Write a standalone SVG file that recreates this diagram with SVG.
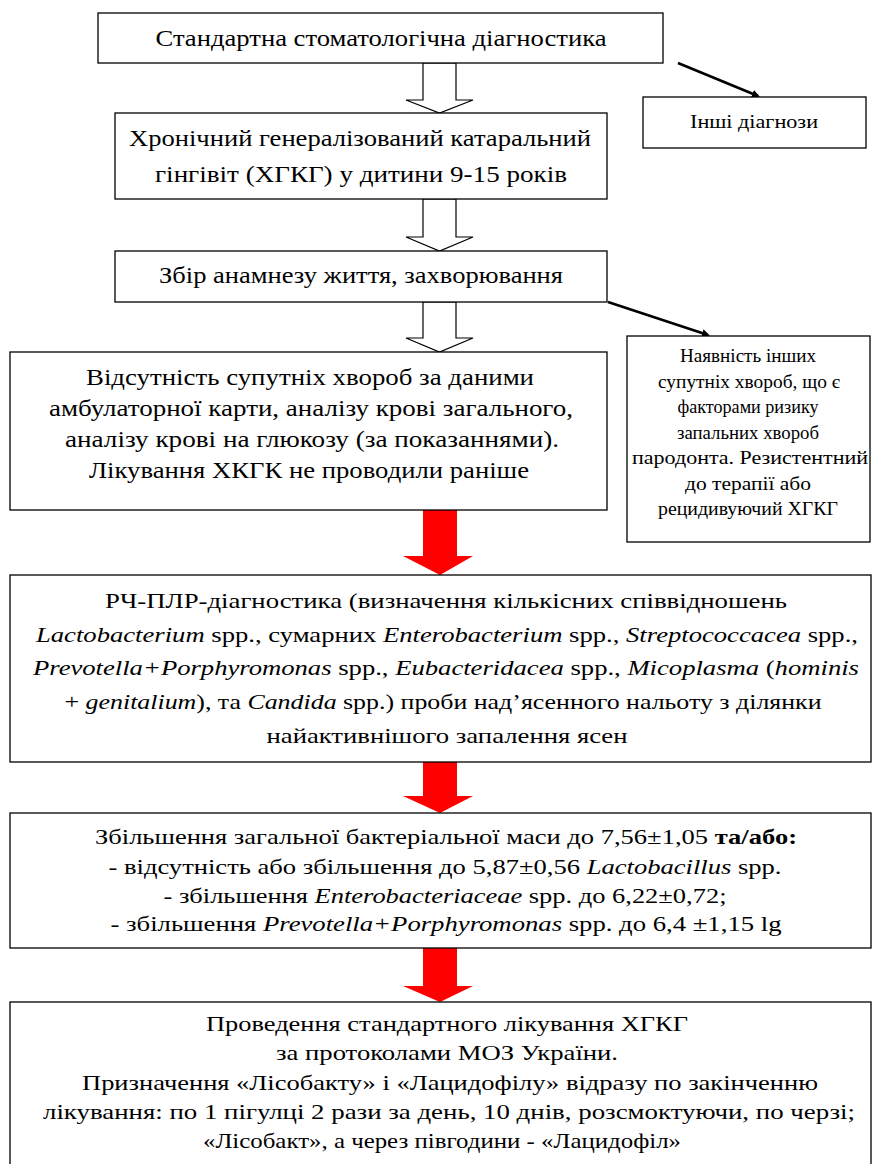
<svg xmlns="http://www.w3.org/2000/svg" width="873" height="1164" viewBox="0 0 873 1164">
<defs>
<marker id="ah" markerWidth="8" markerHeight="8" refX="6" refY="4" orient="auto" markerUnits="userSpaceOnUse" viewBox="0 0 8 8">
<path d="M0,0 L8,4 L0,8 Z" fill="#000"/>
</marker>
</defs>
<rect width="873" height="1164" fill="#fff"/>

<g id="connectors">
<g fill="#fff" stroke="#000" stroke-width="1.2">
<polygon points="423,63 456,63 456,100 473,100 439.5,113 406,100 423,100"/>
<polygon points="423,199 456,199 456,237 473,237 439.5,251 406,237 423,237"/>
<polygon points="423,302 456,302 456,338 473,338 439.5,352 406,338 423,338"/>
</g>
<g fill="#ff0000">
<polygon points="423,510 457,510 457,556 473,556 440,575 403,556 423,556"/>
<polygon points="423,762 457,762 457,796 473,796 440,813 403,796 423,796"/>
<polygon points="423,948 457,948 457,986 473,986 440,1002 403,986 423,986"/>
</g>
<g stroke="#000" stroke-width="2.6" fill="none">
<line x1="678" y1="63" x2="758" y2="96" marker-end="url(#ah)"/>
<line x1="608" y1="302" x2="708" y2="335" marker-end="url(#ah)"/>
</g>
</g>

<g id="n1">
<rect x="98" y="13" width="565" height="50" fill="#fff" stroke="#000" stroke-width="1.3"/>
<text x="381" y="46" font-size="24" text-anchor="middle" font-family="Liberation Serif" textLength="451" lengthAdjust="spacingAndGlyphs">Стандартна стоматологічна діагностика</text>
</g>
<g id="n2">
<rect x="115" y="113" width="492" height="86" fill="#fff" stroke="#000" stroke-width="1.3"/>
<text x="360" y="146" font-size="24" text-anchor="middle" font-family="Liberation Serif" textLength="462" lengthAdjust="spacingAndGlyphs">Хронічний генералізований катаральний</text>
<text x="361" y="182" font-size="24" text-anchor="middle" font-family="Liberation Serif" textLength="412" lengthAdjust="spacingAndGlyphs">гінгівіт (ХГКГ) у дитини 9-15 років</text>
</g>
<g id="n_other">
<rect x="643" y="97" width="223" height="51" fill="#fff" stroke="#000" stroke-width="1.3"/>
<text x="754" y="128" font-size="19" text-anchor="middle" font-family="Liberation Serif" textLength="128" lengthAdjust="spacingAndGlyphs">Інші діагнози</text>
</g>
<g id="n3">
<rect x="115" y="251" width="492" height="51" fill="#fff" stroke="#000" stroke-width="1.3"/>
<text x="361" y="283" font-size="24" text-anchor="middle" font-family="Liberation Serif" textLength="404" lengthAdjust="spacingAndGlyphs">Збір анамнезу життя, захворювання</text>
</g>
<g id="n4">
<rect x="10" y="352" width="597" height="158" fill="#fff" stroke="#000" stroke-width="1.3"/>
<text x="310" y="385" font-size="24" text-anchor="middle" font-family="Liberation Serif" textLength="448" lengthAdjust="spacingAndGlyphs">Відсутність супутніх хвороб за даними</text>
<text x="311" y="416" font-size="24" text-anchor="middle" font-family="Liberation Serif" textLength="524" lengthAdjust="spacingAndGlyphs">амбулаторної карти, аналізу крові загального,</text>
<text x="312" y="447" font-size="24" text-anchor="middle" font-family="Liberation Serif" textLength="494" lengthAdjust="spacingAndGlyphs">аналізу крові на глюкозу (за показаннями).</text>
<text x="309" y="478" font-size="24" text-anchor="middle" font-family="Liberation Serif" textLength="440" lengthAdjust="spacingAndGlyphs">Лікування ХКГК не проводили раніше</text>
</g>
<g id="n_side">
<rect x="627" y="336" width="243" height="206" fill="#fff" stroke="#000" stroke-width="1.3"/>
<text x="748" y="362" font-size="18.5" text-anchor="middle" font-family="Liberation Serif" textLength="136" lengthAdjust="spacingAndGlyphs">Наявність інших</text>
<text x="749" y="388" font-size="18.5" text-anchor="middle" font-family="Liberation Serif" textLength="182" lengthAdjust="spacingAndGlyphs">супутніх хвороб, що є</text>
<text x="748" y="413" font-size="18.5" text-anchor="middle" font-family="Liberation Serif" textLength="141" lengthAdjust="spacingAndGlyphs">факторами ризику</text>
<text x="748" y="439" font-size="18.5" text-anchor="middle" font-family="Liberation Serif" textLength="142" lengthAdjust="spacingAndGlyphs">запальних хвороб</text>
<text x="750" y="464" font-size="18.5" text-anchor="middle" font-family="Liberation Serif" textLength="236" lengthAdjust="spacingAndGlyphs">пародонта. Резистентний</text>
<text x="748" y="490" font-size="18.5" text-anchor="middle" font-family="Liberation Serif" textLength="126" lengthAdjust="spacingAndGlyphs">до терапії або</text>
<text x="748" y="515" font-size="18.5" text-anchor="middle" font-family="Liberation Serif" textLength="180" lengthAdjust="spacingAndGlyphs">рецидивуючий ХГКГ</text>
</g>
<g id="n5">
<rect x="10" y="575" width="861" height="187" fill="#fff" stroke="#000" stroke-width="1.3"/>
<text x="446" y="608" font-size="22" text-anchor="middle" font-family="Liberation Serif" textLength="682" lengthAdjust="spacingAndGlyphs">РЧ-ПЛР-діагностика (визначення кількісних співвідношень</text>
<text x="447" y="642" font-size="22" text-anchor="middle" font-family="Liberation Serif" textLength="822" lengthAdjust="spacingAndGlyphs"><tspan font-style="italic">Lactobacterium</tspan> spp., сумарних <tspan font-style="italic">Enterobacterium</tspan> spp., <tspan font-style="italic">Streptococcacea</tspan> spp.,</text>
<text x="446" y="675" font-size="22" text-anchor="middle" font-family="Liberation Serif" textLength="826" lengthAdjust="spacingAndGlyphs"><tspan font-style="italic">Prevotella+Porphyromonas</tspan> spp., <tspan font-style="italic">Eubacteridacea</tspan> spp., <tspan font-style="italic">Micoplasma</tspan> (<tspan font-style="italic">hominis</tspan></text>
<text x="443" y="709" font-size="22" text-anchor="middle" font-family="Liberation Serif" textLength="757" lengthAdjust="spacingAndGlyphs">+ <tspan font-style="italic">genitalium</tspan>), та <tspan font-style="italic">Candida</tspan> spp.) проби над’ясенного нальоту з ділянки</text>
<text x="447" y="743" font-size="22" text-anchor="middle" font-family="Liberation Serif" textLength="361" lengthAdjust="spacingAndGlyphs">найактивнішого запалення ясен</text>
</g>
<g id="n6">
<rect x="10" y="813" width="861" height="135" fill="#fff" stroke="#000" stroke-width="1.3"/>
<text x="446" y="844" font-size="22" text-anchor="middle" font-family="Liberation Serif" textLength="702" lengthAdjust="spacingAndGlyphs">Збільшення загальної бактеріальної маси до 7,56±1,05 <tspan font-weight="bold">та/або:</tspan></text>
<text x="445" y="874" font-size="22" text-anchor="middle" font-family="Liberation Serif" textLength="673" lengthAdjust="spacingAndGlyphs">- відсутність або збільшення до 5,87±0,56 <tspan font-style="italic">Lactobacillus</tspan> spp.</text>
<text x="445" y="903" font-size="22" text-anchor="middle" font-family="Liberation Serif" textLength="563" lengthAdjust="spacingAndGlyphs">- збільшення <tspan font-style="italic">Enterobacteriaceae</tspan> spp. до 6,22±0,72;</text>
<text x="446" y="931" font-size="22" text-anchor="middle" font-family="Liberation Serif" textLength="671" lengthAdjust="spacingAndGlyphs">- збільшення <tspan font-style="italic">Prevotella+Porphyromonas</tspan> spp. до 6,4 ±1,15 lg</text>
</g>
<g id="n7">
<rect x="10" y="1002" width="861" height="170" fill="#fff" stroke="#000" stroke-width="1.3"/>
<text x="447" y="1031" font-size="22" text-anchor="middle" font-family="Liberation Serif" textLength="482" lengthAdjust="spacingAndGlyphs">Проведення стандартного лікування ХГКГ</text>
<text x="447" y="1060" font-size="22" text-anchor="middle" font-family="Liberation Serif" textLength="342" lengthAdjust="spacingAndGlyphs">за протоколами МОЗ України.</text>
<text x="450" y="1090" font-size="22" text-anchor="middle" font-family="Liberation Serif" textLength="736" lengthAdjust="spacingAndGlyphs">Призначення «Лісобакту» і «Лацидофілу» відразу по закінченню</text>
<text x="449" y="1119" font-size="22" text-anchor="middle" font-family="Liberation Serif" textLength="812" lengthAdjust="spacingAndGlyphs">лікування: по 1 пігулці 2 рази за день, 10 днів, розсмоктуючи, по черзі;</text>
<text x="442" y="1148" font-size="22" text-anchor="middle" font-family="Liberation Serif" textLength="478" lengthAdjust="spacingAndGlyphs">«Лісобакт», а через півгодини - «Лацидофіл»</text>
</g>
</svg>
